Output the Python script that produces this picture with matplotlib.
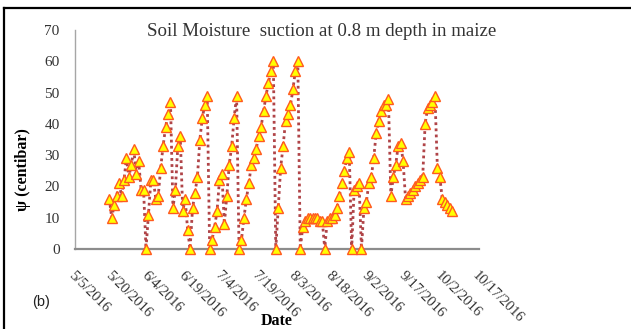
import numpy as np
import pandas as pd
import matplotlib
matplotlib.use("Agg")
import matplotlib.pyplot as plt
import matplotlib.dates as mdates
from matplotlib.lines import Line2D

# daily readings of suction (centibar), first reading on 5/19/2016
start_date = "2016-05-19"
suction = [16, 10, 14, 17, 21, 17, 22, 29, 23, 27,
           32, 24, 28, 19, 19, 0, 11, 22, 22, 16,
           17, 26, 33, 39, 43, 47, 13, 19, 33, 36,
           12, 16, 6, 0, 13, 18, 23, 35, 42, 46,
           49, 0, 3, 7, 12, 22, 24, 8, 17, 27,
           33, 42, 49, 0, 3, 10, 16, 21, 27, 29,
           32, 36, 39, 44, 49, 53, 57, 60, 0, 13,
           26, 33, 41, 43, 46, 51, 57, 60, 0, 7,
           9, 10, 10, 10, 10, 10, 9, 9, 0, 9,
           10, 10, 11, 13, 17, 21, 25, 29, 31, 0,
           19, 20, 21, 0, 13, 15, 21, 23, 29, 37,
           41, 44, 46, 46, 48, 17, 23, 27, 33, 34,
           28, 16, 17, 18, 19, 20, 21, 22, 23, 40,
           45, 46, 47, 49, 26, 23, 16, 15, 14, 13, 12]

tick_dates = ["2016-05-05", "2016-05-20", "2016-06-04", "2016-06-19", "2016-07-04", "2016-07-19",
              "2016-08-03", "2016-08-18", "2016-09-02", "2016-09-17", "2016-10-02", "2016-10-17"]
y_ticks = [0, 10, 20, 30, 40, 50, 60, 70]

dates = pd.date_range(start_date, periods=len(suction), freq="D")
ticks = pd.to_datetime(tick_dates)

W, H = 631, 329
fig = plt.figure(figsize=(W / 100, H / 100), dpi=100)
ax = fig.add_axes([75 / W, 1 - 249 / H, (479 - 75) / W, (249 - 30) / H])

ax.plot(dates, suction, linestyle=(0, (1, 1.2)), lw=2.0, color="#b04448",
        marker="^", markersize=6.5, markerfacecolor="#ffff00", markeredgecolor="#ff5a1f",
        markeredgewidth=1.0, clip_on=False, zorder=3)

ax.set_xlim(ticks[0], ticks[-1])
ax.set_ylim(0, 70)
ax.set_xticks(ticks)
ax.set_xticklabels(["{}/{}/{}".format(d.month, d.day, d.year) for d in ticks])
ax.set_yticks(y_ticks)

for lab in ax.get_xticklabels():
    lab.set_rotation(-45)
    lab.set_ha("left")
    lab.set_va("top")
    lab.set_rotation_mode("anchor")

ax.tick_params(axis="x", length=0, pad=14, labelsize=10.5, labelcolor="#333333")
ax.tick_params(axis="y", length=0, pad=11, labelsize=11, labelcolor="#333333")
for lab in ax.get_xticklabels() + ax.get_yticklabels():
    lab.set_family("Liberation Serif")

for side in ["top", "right"]:
    ax.spines[side].set_visible(False)
ax.spines["left"].set_color("#a6a6a6")
ax.spines["left"].set_linewidth(1.0)
ax.spines["bottom"].set_color("#8c8c8c")
ax.spines["bottom"].set_linewidth(1.6)

fig.text(322 / W, 1 - 32 / H, "Soil Moisture  suction at 0.8 m depth in maize",
         ha="center", va="center", fontsize=13.6, family="Liberation Serif", color="#333333")
fig.text(23 / W, 1 - 170 / H, "\u03c8 (centibar)", rotation=90, ha="center", va="center",
         fontsize=11.5, fontweight="bold", family="Liberation Serif", color="black")
fig.text(277 / W, 1 - 321 / H, "Date", ha="center", va="center",
         fontsize=11.5, fontweight="bold", family="Liberation Serif", color="black")
fig.text(41 / W, 1 - 302 / H, "(b)", ha="center", va="center",
         fontsize=10.5, family="Liberation Sans", color="#222222")

# outer frame (top and left edges visible)
fig.add_artist(Line2D([4 / W, 1.0], [1 - 8 / H, 1 - 8 / H], color="black", lw=1.6,
                      transform=fig.transFigure))
fig.add_artist(Line2D([4 / W, 4 / W], [1 - 8 / H, 0.0], color="black", lw=1.6,
                      transform=fig.transFigure))

fig.savefig("out.png", dpi=100)
